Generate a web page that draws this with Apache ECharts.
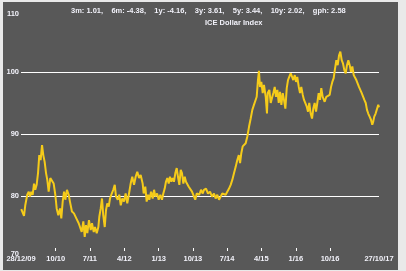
<!DOCTYPE html>
<html><head><meta charset="utf-8">
<script src="https://cdn.jsdelivr.net/npm/echarts@6/dist/echarts.min.js"></script>
<style>
html,body{margin:0;padding:0;background:#e9e9e9;width:406px;height:271px;overflow:hidden}
#c{position:absolute;left:3px;top:2px;width:395px;height:268px;background:#585858}
</style></head><body><div id="c"></div>
<script>
const dates = [
'2009-12-30','2010-01-13','2010-01-21','2010-01-31','2010-02-16','2010-02-28','2010-03-10','2010-03-20','2010-03-31','2010-04-11',
'2010-04-21','2010-05-02','2010-05-13','2010-05-23','2010-06-03','2010-06-14','2010-06-24','2010-07-05','2010-07-16','2010-07-26',
'2010-08-06','2010-08-19','2010-09-02','2010-09-15','2010-09-28','2010-10-09','2010-10-22','2010-11-05','2010-11-15','2010-11-26',
'2010-12-07','2010-12-17','2010-12-30','2011-01-13','2011-01-23','2011-02-08','2011-02-24','2011-03-15','2011-04-03',
'2011-04-13','2011-04-27','2011-05-10','2011-05-21','2011-05-31','2011-06-11','2011-06-24','2011-07-08','2011-07-18','2011-08-01',
'2011-08-11','2011-08-25','2011-09-07','2011-09-15','2011-09-26','2011-10-06','2011-10-16','2011-10-28','2011-11-07','2011-11-17',
'2011-11-29','2011-12-09','2011-12-23','2012-01-04','2012-01-16','2012-01-26','2012-02-09','2012-02-21','2012-03-04','2012-03-16',
'2012-03-30','2012-04-12','2012-04-25','2012-05-09','2012-05-22','2012-06-04','2012-06-18','2012-07-01','2012-07-14','2012-07-28',
'2012-08-10','2012-08-26','2012-09-03','2012-09-16','2012-09-27','2012-10-08','2012-10-18','2012-11-01','2012-11-14','2012-11-25',
'2012-12-05','2012-12-19','2013-01-01','2013-01-14','2013-01-27','2013-02-07','2013-02-18','2013-02-28','2013-03-11','2013-03-22',
'2013-04-01','2013-04-12','2013-04-23','2013-05-03','2013-05-14','2013-05-25','2013-06-04','2013-06-15','2013-06-26','2013-07-06',
'2013-07-17','2013-07-28','2013-08-07','2013-08-18','2013-08-29','2013-09-11','2013-09-24','2013-10-08','2013-10-20','2013-11-01',
'2013-11-11','2013-11-21','2013-12-05','2013-12-19','2013-12-29','2014-01-14','2014-01-30','2014-02-15','2014-03-03','2014-03-19',
'2014-04-01','2014-04-14','2014-04-28','2014-05-11','2014-05-24','2014-06-07','2014-06-20','2014-07-03','2014-07-17','2014-07-30',
'2014-08-12','2014-08-26','2014-09-08','2014-09-21','2014-10-03','2014-10-13','2014-10-23','2014-11-03','2014-11-14','2014-11-27',
'2014-12-10','2014-12-24','2015-01-06','2015-01-19','2015-02-01','2015-02-15','2015-02-23','2015-03-05','2015-03-13','2015-03-21',
'2015-04-01','2015-04-12','2015-04-22','2015-05-06','2015-05-16','2015-05-22','2015-06-04','2015-06-15','2015-06-25','2015-07-06',
'2015-07-17','2015-07-27','2015-08-07','2015-08-18','2015-08-28','2015-09-08','2015-09-19','2015-09-29','2015-10-10','2015-10-21',
'2015-10-31','2015-11-10','2015-11-22','2015-12-02','2015-12-12','2015-12-24','2016-01-03','2016-01-13','2016-01-25','2016-02-04',
'2016-02-14','2016-02-26','2016-03-07','2016-03-17','2016-03-29','2016-04-08','2016-04-18','2016-04-29','2016-05-10','2016-05-20',
'2016-05-31','2016-06-11','2016-06-21','2016-07-02','2016-07-13','2016-07-23','2016-08-03','2016-08-19','2016-09-01','2016-09-15',
'2016-09-28','2016-10-09','2016-10-19','2016-10-30','2016-11-10','2016-11-20','2016-12-01','2016-12-12','2016-12-22','2017-01-02',
'2017-01-12','2017-01-23','2017-02-03','2017-02-13','2017-02-24','2017-03-07','2017-03-17','2017-03-28','2017-04-08','2017-04-18',
'2017-04-29','2017-05-10','2017-05-20','2017-05-31','2017-06-11','2017-06-21','2017-07-02','2017-07-13','2017-07-23','2017-08-02',
'2017-08-13','2017-08-24','2017-09-03','2017-09-11','2017-09-19','2017-09-30','2017-10-11','2017-10-21','2017-10-27'
];
const values = [
77.9,78.0,76.8,78.5,80.2,80.7,79.9,80.7,80.2,82.0,
81.0,81.8,83.7,86.6,85.8,88.2,86.6,85.5,83.7,82.6,
80.7,82.9,83.1,82.0,80.2,78.0,76.9,78.0,76.4,79.1,
80.7,79.4,81.0,80.2,79.1,77.5,77.2,76.4,75.6,
75.3,74.2,75.9,73.4,75.3,74.0,76.1,74.5,75.6,74.2,
75.0,74.0,75.0,76.7,78.0,79.6,76.9,75.0,77.7,78.8,
78.3,79.6,80.4,81.0,81.8,79.9,79.4,80.2,78.5,79.6,
79.1,80.4,78.8,80.4,82.0,83.1,81.8,83.1,83.9,82.9,
83.4,82.0,80.4,81.5,79.1,80.2,79.4,80.7,79.6,81.0,
79.9,80.4,79.4,80.2,79.4,80.4,81.2,82.3,82.9,82.0,
83.1,82.3,82.9,82.3,83.7,84.5,83.1,81.8,84.2,83.7,
82.0,83.1,82.3,82.6,81.5,81.8,80.7,80.4,79.4,80.4,
80.7,80.2,81.0,80.4,81.0,81.2,80.4,80.7,79.9,80.4,
79.6,80.2,79.4,79.9,80.4,80.7,80.2,80.4,81.2,81.8,
82.6,83.7,84.7,85.8,86.6,85.3,86.9,88.0,87.7,88.5,
89.6,91.2,92.5,93.9,94.7,94.4,96.0,98.7,100.2,97.6,
98.4,96.6,97.9,96.0,93.3,96.6,97.1,95.0,95.8,96.6,
97.6,96.0,97.1,95.0,96.8,94.7,96.6,95.5,94.1,97.4,
98.7,99.2,99.8,100.0,98.7,99.5,98.4,99.2,97.6,96.6,
97.6,96.3,95.5,95.8,94.4,93.6,95.0,93.3,92.5,94.1,
95.0,93.6,95.0,96.6,95.5,97.4,96.0,95.2,96.0,95.8,
96.3,97.6,98.4,99.0,100.6,101.9,101.1,102.7,103.3,101.9,
101.4,100.3,99.8,101.1,101.9,101.1,100.0,100.9,99.5,99.8,
98.7,99.0,97.6,97.4,96.6,96.8,95.5,95.0,93.9,93.3,
92.8,92.3,91.5,92.0,92.8,93.3,93.0,94.7,94.3
];
const tickDates = ['2009-12-28','2010-10-01','2011-07-01','2012-04-01','2013-01-01','2013-10-01','2014-07-01','2015-04-01','2016-01-01','2016-10-01','2017-10-27'];
const tickLabels = ['28/12/09','10/10','7/11','4/12','1/13','10/13','7/14','4/15','1/16','10/16','27/10/17'];
const yMin = 70, yMax = 110, yStep = 10;
const statsText = '3m: 1.01,    6m: -4.38,    1y: -4.16,    3y: 3.61,    5y: 3.44,    10y: 2.02,    gph: 2.58';
const titleText = 'ICE Dollar Index';

function ts(s){ return Date.UTC(+s.slice(0,4), +s.slice(5,7)-1, +s.slice(8,10)); }
const tickTs = tickDates.map(ts);
const seriesData = dates.map((d,i)=>[ts(d), values[i]]);
const DAY = 86400000;
const font = '"Liberation Sans", Arial, sans-serif';
const txtColor = '#f2f2fa';

const chart = echarts.init(document.getElementById('c'), null, {renderer:'canvas'});
chart.setOption({
  animation:false,
  backgroundColor:'#585858',
  title:[
    {text:statsText, left:63, top:0, textStyle:{color:txtColor, fontSize:7.5, fontWeight:'bold', fontFamily:font}},
    {text:titleText, left:197, top:12, textStyle:{color:txtColor, fontSize:7.5, fontWeight:'bold', fontFamily:font}}
  ],
  grid:{left:18, right:19, top:8, bottom:12, containLabel:false},
  xAxis:{
    type:'value',
    min:tickTs[0], max:tickTs[tickTs.length-1],
    offset:-7,
    axisLine:{show:false},
    axisTick:{show:true, inside:true, length:3, lineStyle:{color:'#ffffff', width:1}, customValues:tickTs.slice(1,-1)},
    axisLabel:{
      customValues:tickTs,
      color:txtColor, fontSize:7.5, fontWeight:'bold', fontFamily:font, margin:4,
      formatter:function(v){
        for(let i=0;i<tickTs.length;i++){ if(Math.abs(tickTs[i]-v) < DAY) return tickLabels[i]; }
        return '';
      }
    },
    splitLine:{show:false}
  },
  yAxis:{
    type:'value', min:yMin, max:yMax, interval:yStep,
    axisLine:{show:false}, axisTick:{show:false},
    axisLabel:{color:txtColor, fontSize:7.5, fontWeight:'bold', fontFamily:font, margin:2,
      verticalAlignMaxLabel:'top', verticalAlignMinLabel:'bottom'},
    splitLine:{show:true, showMinLine:false, showMaxLine:false, lineStyle:{color:'#ffffff', width:1}}
  },
  series:[{
    type:'line', data:seriesData, showSymbol:false, symbol:'none',
    lineStyle:{color:'#f5cb1a', width:2}, z:3
  }]
});
</script></body></html>
